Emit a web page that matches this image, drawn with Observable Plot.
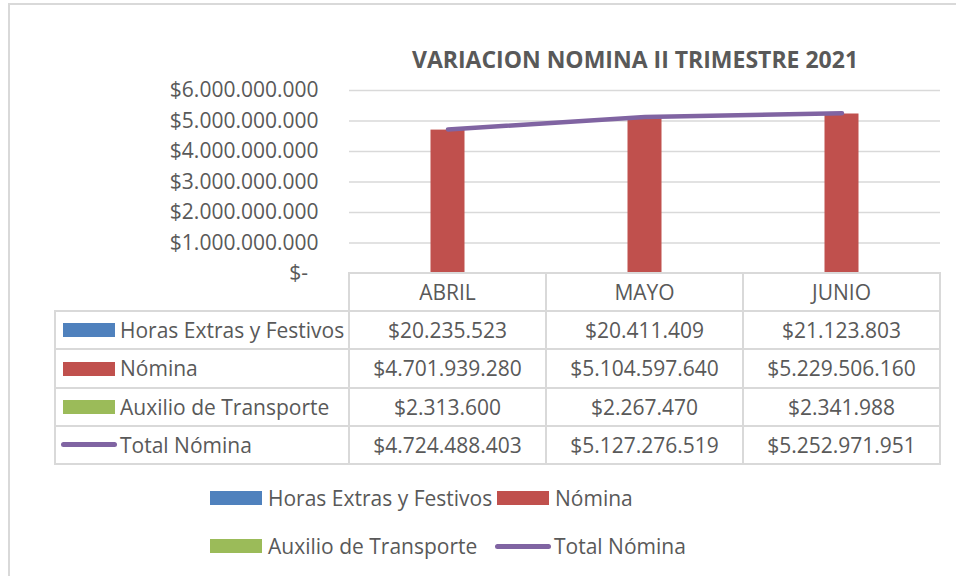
<!DOCTYPE html>
<html><head><meta charset="utf-8">
<script src="https://cdn.jsdelivr.net/npm/d3@7"></script>
<script src="https://cdn.jsdelivr.net/npm/@observablehq/plot@0.6"></script>
<style>
body{margin:0;background:#fff;}
#wrap{position:relative;width:956px;height:576px;overflow:hidden;font-family:"Open Sans",sans-serif;color:#595959;background:#fff;}
#wrap div{box-sizing:border-box;}
</style></head><body><div id="wrap"></div>
<script>
const title = "VARIACION NOMINA II TRIMESTRE 2021";
const months = ["ABRIL", "MAYO", "JUNIO"];
const seriesNames = ["Horas Extras y Festivos", "Nómina", "Auxilio de Transporte", "Total Nómina"];
const horasExtras = [20235523, 20411409, 21123803];
const nomina = [4701939280, 5104597640, 5229506160];
const auxilio = [2313600, 2267470, 2341988];
const totalNomina = [4724488403, 5127276519, 5252971951];
const yTicks = [0, 1e9, 2e9, 3e9, 4e9, 5e9, 6e9];
const seriesColors = ["#4F81BD", "#C0504D", "#9BBB59", "#8064A2"];

const money = v => "$" + d3.format(",")(v).replace(/,/g, ".");
const axisFmt = v => v === 0 ? "$-\u2002" : money(v);

const barRows = months.flatMap((m, i) => [
  {month: m, series: seriesNames[0], value: horasExtras[i]},
  {month: m, series: seriesNames[1], value: nomina[i]},
  {month: m, series: seriesNames[2], value: auxilio[i]}
]);
const totals = months.map((m, i) => ({month: m, value: totalNomina[i]}));

// bar layout within each month band (band = 197px, bar = 34px)
const barW = 34, bandW = 197, mid = (bandW - barW) / 2;
const insets = [[mid - barW, mid + barW], [mid, mid], [mid + barW, mid - barW]];

const chart = Plot.plot({
  width: 956, height: 576,
  marginLeft: 349, marginRight: 16, marginTop: 90, marginBottom: 303,
  style: {fontFamily: "'Open Sans', sans-serif", fontSize: "21px", color: "#595959", background: "transparent", overflow: "visible"},
  x: {domain: months, padding: 0, axis: null},
  y: {domain: [0, 6e9], label: null},
  marks: [
    Plot.gridY(yTicks.filter(v => v > 0), {stroke: "#d9d9d9", strokeOpacity: 1, strokeWidth: 1.6}),
    Plot.axisY(yTicks, {tickSize: 0, tickPadding: 31, tickFormat: axisFmt, fill: "#595959", fontSize: 21, label: null}),
    ...[0, 1, 2].map(k => Plot.barY(barRows.filter(d => d.series === seriesNames[k]), {
      x: "month", y: "value", fill: seriesColors[k], insetLeft: insets[k][0], insetRight: insets[k][1]
    })),
    Plot.line(totals, {x: "month", y: "value", stroke: seriesColors[3], strokeWidth: 4.5, strokeLinecap: "round", strokeLinejoin: "round"})
  ]
});

const wrap = document.getElementById("wrap");
chart.style.position = "absolute";
chart.style.left = "0px";
chart.style.top = "0px";
wrap.appendChild(chart);

function box(css, text) {
  const d = document.createElement("div");
  d.style.position = "absolute";
  Object.assign(d.style, css);
  if (text != null) d.textContent = text;
  wrap.appendChild(d);
  return d;
}
const px = v => v + "px";
const lineColor = "#d9d9d9";
function hline(x1, x2, y) { box({left: px(x1 - 1), top: px(y - 1), width: px(x2 - x1 + 2), height: "2px", background: lineColor}); }
function vline(x, y1, y2) { box({left: px(x - 1), top: px(y1 - 1), width: "2px", height: px(y2 - y1 + 2), background: lineColor}); }

// outer frame
box({left: "8px", top: "3px", width: "960px", height: "600px", borderTop: "2px solid " + lineColor, borderLeft: "2px solid " + lineColor});

// title
box({left: px(635 - 320), top: "44px", width: "640px", textAlign: "center", fontWeight: "700", fontSize: "23px", lineHeight: "30px", color: "#595959"}, title);

// data table aligned to the x band scale
const xs = chart.scale("x"), ys = chart.scale("y");
const bw = xs.bandwidth;
const left0 = xs.range[0], right0 = xs.range[1];
const top0 = ys.apply(0);
const rowH = 38.2;
const labelLeft = 55;
const nRows = 4;
const bottom = top0 + rowH * (nRows + 1);
hline(left0, right0, top0);
for (let r = 1; r <= nRows + 1; r++) hline(labelLeft, right0, top0 + rowH * r);
vline(labelLeft, top0 + rowH, bottom);
vline(left0, top0, bottom);
months.forEach(m => vline(xs.apply(m) + bw, top0, bottom));

const cellText = {position: "absolute", display: "flex", alignItems: "center", justifyContent: "center", fontSize: "21px", lineHeight: "24px", whiteSpace: "nowrap"};
months.forEach(m => box({...cellText, left: px(xs.apply(m)), top: px(top0), width: px(bw), height: px(rowH)}, m));
const tableValues = [horasExtras, nomina, auxilio, totalNomina];
tableValues.forEach((vals, r) => {
  const yTop = top0 + rowH * (r + 1);
  months.forEach((m, i) => box({...cellText, left: px(xs.apply(m)), top: px(yTop), width: px(bw), height: px(rowH)}, money(vals[i])));
  const yc = yTop + rowH / 2;
  if (r < 3) box({left: "63px", top: px(yc - 7), width: "52px", height: "14px", background: seriesColors[r]});
  else box({left: "61px", top: px(yc - 2.5), width: "56px", height: "5px", borderRadius: "3px", background: seriesColors[r]});
  box({...cellText, justifyContent: "flex-start", left: "120px", top: px(yTop), height: px(rowH)}, seriesNames[r]);
});

// legend
const legendItems = [
  {k: 0, sx: 210, tx: 268, y: 498},
  {k: 1, sx: 497, tx: 555, y: 498},
  {k: 2, sx: 210, tx: 268, y: 546},
  {k: 3, sx: 495, tx: 554, y: 546}
];
legendItems.forEach(({k, sx, tx, y}) => {
  if (k < 3) box({left: px(sx), top: px(y - 7), width: "52px", height: "14px", background: seriesColors[k]});
  else box({left: px(sx), top: px(y - 2.5), width: "56px", height: "5px", borderRadius: "3px", background: seriesColors[k]});
  box({...cellText, justifyContent: "flex-start", left: px(tx), top: px(y - 15), height: "30px"}, seriesNames[k]);
});
</script>
</body></html>
